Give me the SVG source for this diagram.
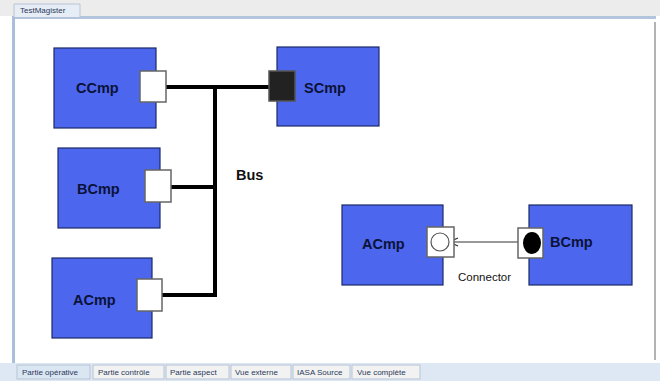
<svg xmlns="http://www.w3.org/2000/svg" width="660" height="381" viewBox="0 0 660 381">
<style>
.comp{fill:#4d66ee;stroke:#1c2866;stroke-width:1.2}
.port{fill:#ffffff;stroke:#666666;stroke-width:1.5}
.lbl{font-family:"Liberation Sans",Arial,sans-serif;font-weight:bold;font-size:14.5px;fill:#0b1238}
.bus{stroke:#000000;stroke-width:4;fill:none}
.tab{fill:#f2f2f2;stroke:#b8c4d4;stroke-width:1}
.tabsel{fill:#dbe6f3;stroke:#b8c4d4;stroke-width:1}
.tabt{font-family:"Liberation Sans",Arial,sans-serif;font-size:8px;fill:#2a3a5a}
.small{font-family:"Liberation Sans",Arial,sans-serif;font-size:11.5px;fill:#111111}
</style>
<defs>
<marker id="arr" viewBox="0 0 10 10" refX="10" refY="5" markerWidth="10" markerHeight="10" markerUnits="userSpaceOnUse" orient="auto">
<path d="M1,1 L10,5 L1,9" fill="none" stroke="#333333" stroke-width="1.3"/>
</marker>
</defs>
<rect x="0" y="0" width="660" height="381" fill="#ffffff"/>
<rect x="0" y="0" width="660" height="16" fill="#ececec"/>
<rect x="12" y="16" width="644" height="3" fill="#b3c5dd"/>
<rect x="12" y="16" width="3" height="350" fill="#a9bfdc"/>
<line x1="655" y1="22" x2="655" y2="360" stroke="#9a9a9a" stroke-width="1.5"/>
<rect x="0" y="363" width="660" height="18" fill="#dde8f4"/>
<g id="tab-top">
<path d="M14,17 L14,4 L80,4 L80,17" fill="#e6edf5" stroke="#b8c4d4"/>
<text x="20" y="13" class="tabt">TestMagister</text>
</g>
<g id="tabs-bottom">
<rect x="17" y="365" width="73" height="14" class="tabsel"/>
<text x="22" y="375" class="tabt">Partie opérative</text>
<rect x="93" y="365" width="71" height="14" class="tab"/>
<text x="98" y="375" class="tabt">Partie contrôle</text>
<rect x="166" y="365" width="63" height="14" class="tab"/>
<text x="170" y="375" class="tabt">Partie aspect</text>
<rect x="231" y="365" width="60" height="14" class="tab"/>
<text x="235" y="375" class="tabt">Vue externe</text>
<rect x="293" y="365" width="57" height="14" class="tab"/>
<text x="297" y="375" class="tabt">IASA Source</text>
<rect x="352" y="365" width="68" height="14" class="tab"/>
<text x="357" y="375" class="tabt">Vue complète</text>
</g>
<g id="connectors">
<path class="bus" d="M166,87 L270,87"/>
<path class="bus" d="M215,87 L215,295"/>
<path class="bus" d="M171,187 L215,187"/>
<path class="bus" d="M162,295 L217,295"/>
<line x1="518" y1="242" x2="449" y2="242" stroke="#333333" stroke-width="1" marker-end="url(#arr)"/>
</g>
<g id="CCmp">
<rect x="54" y="48" width="102" height="80" class="comp"/>
<text x="76" y="93" class="lbl">CCmp</text>
<rect x="140" y="71" width="26" height="31" class="port"/>
</g>
<g id="SCmp">
<rect x="277" y="47" width="102" height="79" class="comp"/>
<rect x="269" y="71" width="26" height="30" fill="#222222" stroke="#555555" stroke-width="1.5"/>
<text x="304" y="93" class="lbl">SCmp</text>
</g>
<g id="BCmp">
<rect x="58" y="148" width="102" height="80" class="comp"/>
<text x="77" y="194" class="lbl">BCmp</text>
<rect x="145" y="170" width="26" height="32" class="port"/>
</g>
<g id="ACmp">
<rect x="52" y="258" width="100" height="80" class="comp"/>
<text x="73" y="305" class="lbl">ACmp</text>
<rect x="137" y="279" width="25" height="32" class="port"/>
</g>
<g id="bus-label">
<text x="236" y="180" class="lbl" style="fill:#111111">Bus</text>
</g>
<g id="ACmp2">
<rect x="342" y="205" width="101" height="80" class="comp"/>
<text x="362" y="249" class="lbl">ACmp</text>
<rect x="427" y="227" width="27" height="30" class="port"/>
<circle cx="440" cy="242" r="9" fill="#ffffff" stroke="#555555" stroke-width="1.2"/>
</g>
<g id="BCmp2">
<rect x="529" y="205" width="103" height="80" class="comp"/>
<text x="550" y="247" class="lbl">BCmp</text>
<rect x="518" y="228" width="25" height="30" class="port"/>
<ellipse cx="532" cy="243" rx="9" ry="11" fill="#000000"/>
</g>
<g id="connector-label">
<text x="458" y="281" class="small">Connector</text>
</g>
</svg>
